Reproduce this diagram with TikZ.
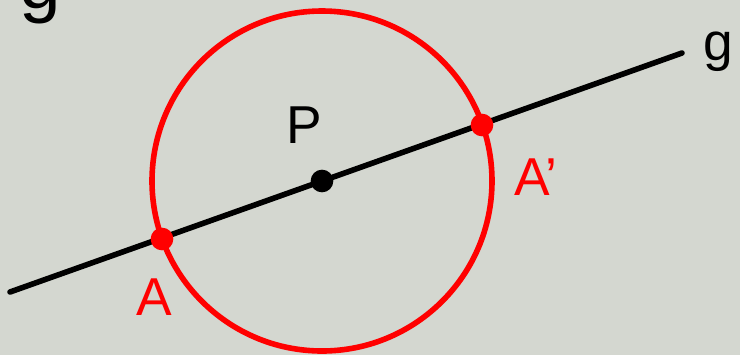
\documentclass[tikz,border=0pt]{standalone}
\usepackage{fontspec}
\setmainfont{Liberation Sans}
\usepackage{tikz}
\usetikzlibrary{positioning, calc}
\definecolor{board}{RGB}{212,215,208}
\definecolor{chalkred}{RGB}{255,0,0}

\begin{document}
\begin{tikzpicture}[
            x=0.75pt, y=-0.75pt,
            stroke/.style={line width=4.2pt, line cap=round},
            dot/.style={circle, inner sep=0pt, minimum size=17pt},
            label/.style={font=\fontsize{40}{40}\selectfont, inner sep=0pt}
        ]
            \fill[board] (0,0) rectangle (740,355);
            \useasboundingbox (0,0) rectangle (740,355);

            \coordinate (g1) at (10,292);
            \coordinate (g2) at (682,53);
            \coordinate (p) at (322,181);

            \draw[stroke, chalkred] (p) circle[radius=170];
            \draw[stroke, black] (g1) -- (g2);

            \node[dot, fill=black] (P) at (p) {};
            \node[dot, fill=chalkred] (A) at (162,239) {};
            \node[dot, fill=chalkred] (A2) at (482,125) {};

            \node[label] (lP) at (304,125) {P};
            \node[label, chalkred] (lA) at (154,297) {A};
            \node[label, chalkred] (lA2) at (536,177) {A'};
            \node[label] (lg) at (718,52) {g};
            \node[label, anchor=base, font=\fontsize{56}{56}\selectfont] (ltop) at (40,8) {g};
        \end{tikzpicture}
\end{document}
